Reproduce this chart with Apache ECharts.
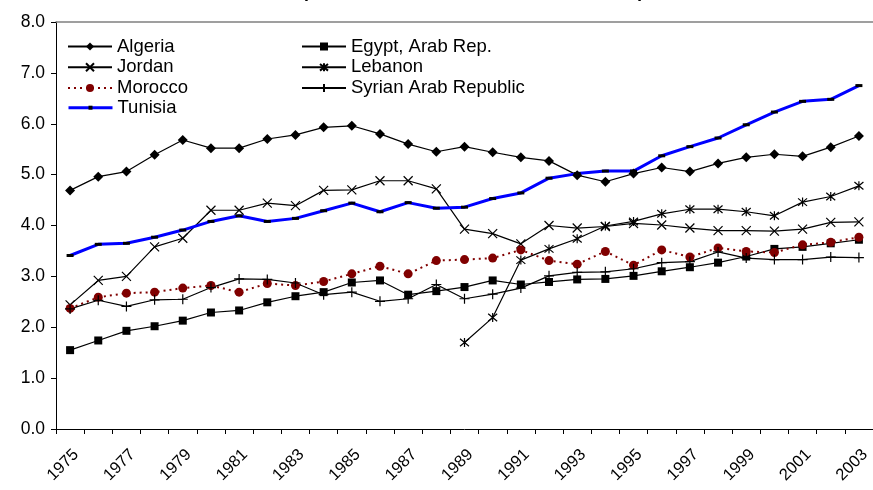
<!DOCTYPE html>
<html>
<head>
<meta charset="utf-8">
<script src="https://cdn.jsdelivr.net/npm/echarts@6/dist/echarts.min.js"></script>
<style>
html,body{margin:0;padding:0;background:#fff;}
#chart{width:873px;height:490px;}
</style>
</head>
<body>
<div id="chart"></div>
<script>
const years = ['1975','1976','1977','1978','1979','1980','1981','1982','1983','1984','1985','1986','1987','1988','1989','1990','1991','1992','1993','1994','1995','1996','1997','1998','1999','2000','2001','2002','2003'];
const yTicks = [0,1,2,3,4,5,6,7,8];
const titleText = '(US$, thousands at constant 2000 rates)';

const algeria = [4.69,4.96,5.06,5.39,5.68,5.52,5.52,5.70,5.78,5.93,5.96,5.80,5.60,5.45,5.55,5.44,5.34,5.27,4.99,4.86,5.02,5.14,5.06,5.22,5.34,5.40,5.36,5.54,5.76];
const egypt = [1.55,1.74,1.93,2.02,2.13,2.29,2.33,2.49,2.61,2.69,2.88,2.92,2.64,2.71,2.79,2.92,2.84,2.89,2.94,2.95,3.01,3.10,3.18,3.27,3.39,3.54,3.58,3.65,3.72];
const jordan = [2.44,2.92,3.00,3.58,3.75,4.30,4.30,4.44,4.39,4.69,4.70,4.88,4.88,4.72,3.93,3.84,3.64,4.00,3.95,3.98,4.04,4.01,3.95,3.90,3.90,3.89,3.93,4.06,4.07];
const lebanon = [null,null,null,null,null,null,null,null,null,null,null,null,null,null,1.70,2.19,3.32,3.54,3.74,3.99,4.08,4.23,4.32,4.32,4.27,4.19,4.46,4.57,4.78];
const morocco = [2.37,2.59,2.67,2.69,2.77,2.82,2.69,2.86,2.82,2.90,3.05,3.20,3.05,3.31,3.33,3.36,3.52,3.31,3.24,3.49,3.22,3.52,3.38,3.56,3.49,3.47,3.62,3.67,3.77];
const syria = [2.36,2.53,2.41,2.54,2.55,2.78,2.95,2.94,2.87,2.64,2.69,2.51,2.56,2.84,2.56,2.65,2.77,3.01,3.08,3.09,3.15,3.27,3.29,3.48,3.36,3.33,3.33,3.38,3.37];
const tunisia = [3.41,3.63,3.65,3.77,3.91,4.08,4.19,4.08,4.14,4.29,4.44,4.27,4.45,4.34,4.36,4.53,4.64,4.93,5.02,5.07,5.07,5.37,5.55,5.72,5.98,6.23,6.44,6.48,6.75];

const seriesNames = ['Algeria','Egypt, Arab Rep.','Jordan','Lebanon','Morocco','Syrian Arab Republic','Tunisia'];

const FONT = 'Liberation Sans, Arial, sans-serif';
const XPATH = 'path://M0,0L10,10M10,0L0,10';
const STARPATH = 'path://M0,0L10,10M10,0L0,10M5,-1L5,11';
const PLUSPATH = 'path://M0,5L10,5M5,0L5,10';

function blackSeries(name, data, symbol, size, filled) {
  return {
    name: name, type: 'line', data: data,
    symbol: symbol, symbolSize: size, showSymbol: true,
    connectNulls: false,
    lineStyle: {color: '#000', width: 1.2},
    itemStyle: filled ? {color: '#000', borderColor: '#000', borderWidth: 0}
                      : {color: 'rgba(0,0,0,0)', borderColor: '#000', borderWidth: 1.2},
    emphasis: {disabled: true},
    animation: false
  };
}

const chart = echarts.init(document.getElementById('chart'), null, {renderer: 'canvas'});
const legendText = {fontFamily: FONT, fontSize: 18.5, color: '#000', lineHeight: 16};
const rowH = 20.4;
const legTop = 37;
function leg(names, left, top, itemHeight, extra) {
  return Object.assign({
    data: names, orient: 'vertical', left: left, top: top, padding: 0,
    itemWidth: 44, itemHeight: itemHeight, itemGap: 1.8,
    textStyle: legendText, selectedMode: false
  }, extra || {});
}
chart.setOption({
  backgroundColor: '#fff',
  animation: false,
  title: {
    text: titleText, left: 302, top: -17, padding: 0,
    textStyle: {fontFamily: FONT, fontSize: 18, fontWeight: 'bold', color: '#000'}
  },
  legend: [
    leg([seriesNames[0], seriesNames[2], seriesNames[4]], 67, legTop, 10),
    leg([seriesNames[6]], 67, legTop + 3 * rowH, 5, {lineStyle: {width: 3, color: '#0000FF'}}),
    leg([seriesNames[1], seriesNames[3], seriesNames[5]], 301, legTop, 10)
  ],
  grid: {left: 56, top: 22, width: 832, bottom: 61, containLabel: false},
  xAxis: [
    {
      type: 'category', data: years, boundaryGap: true,
      axisLine: {lineStyle: {color: '#000', width: 1}},
      axisTick: {show: true, interval: 0, length: 5, lineStyle: {color: '#000'}},
      axisLabel: {interval: 1, rotate: 45, margin: 17, verticalAlign: 'top', fontFamily: FONT, fontSize: 16.5, color: '#000'},
      splitLine: {show: false}
    },
    {
      type: 'category', data: years, position: 'top',
      axisLine: {show: true, lineStyle: {color: '#808080', width: 1.5}},
      axisTick: {show: false}, axisLabel: {show: false}, splitLine: {show: false}
    }
  ],
  yAxis: {
    type: 'value', min: yTicks[0], max: yTicks[yTicks.length - 1], interval: 1,
    axisLine: {show: true, lineStyle: {color: '#000', width: 1}},
    axisTick: {show: true, length: 5, lineStyle: {color: '#000'}},
    axisLabel: {formatter: v => v.toFixed(1), margin: 11, fontFamily: FONT, fontSize: 17.5, color: '#000'},
    splitLine: {show: false}
  },
  series: [
    blackSeries(seriesNames[0], algeria, 'diamond', 10, true),
    blackSeries(seriesNames[1], egypt, 'rect', 8, true),
    blackSeries(seriesNames[2], jordan, XPATH, 9, false),
    blackSeries(seriesNames[3], lebanon, STARPATH, 9, false),
    {
      name: seriesNames[4], type: 'line', data: morocco,
      symbol: 'circle', symbolSize: 9,
      lineStyle: {color: '#800000', width: 2, type: [2, 4]},
      itemStyle: {color: '#800000'},
      emphasis: {disabled: true}
    },
    blackSeries(seriesNames[5], syria, PLUSPATH, 10, false),
    {
      name: seriesNames[6], type: 'line', data: tunisia,
      symbol: 'rect', symbolSize: [7, 3],
      lineStyle: {color: '#0000FF', width: 3},
      itemStyle: {color: '#000'},
      emphasis: {disabled: true}
    }
  ]
});
</script>
</body>
</html>
